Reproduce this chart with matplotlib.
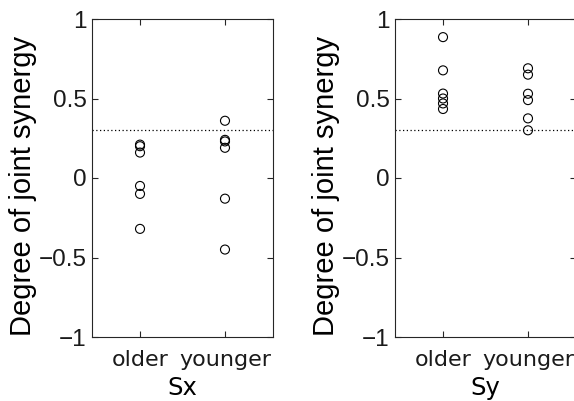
import matplotlib
matplotlib.use("Agg")
import matplotlib.pyplot as plt

# datos
groups = ["older", "younger"]
sx_older = [0.21, 0.20, 0.16, -0.05, -0.10, -0.32]
sx_younger = [0.36, 0.24, 0.23, 0.19, -0.13, -0.45]
sy_older = [0.886, 0.677, 0.531, 0.50, 0.469, 0.434]
sy_younger = [0.69, 0.65, 0.53, 0.49, 0.375, 0.30]
threshold = 0.3
panel_names = ["Sx", "Sy"]

plt.rcParams["font.family"] = ["Liberation Sans", "DejaVu Sans"]

fig = plt.figure(figsize=(5.74, 4.01), dpi=100)
W, H = 574, 401
ax1 = fig.add_axes([92 / W, 1 - 337 / H, 181 / W, 318 / H])
ax2 = fig.add_axes([395 / W, 1 - 337 / H, 181 / W, 318 / H])

lab_font = ["DejaVu Sans"]

for ax, (older, younger), name in zip(
        [ax1, ax2], [(sx_older, sx_younger), (sy_older, sy_younger)], panel_names):
    ax.scatter([1] * len(older), older, s=42, facecolors="none",
               edgecolors="black", linewidths=0.8, zorder=3)
    ax.scatter([2] * len(younger), younger, s=42, facecolors="none",
               edgecolors="black", linewidths=0.8, zorder=3)
    ax.axhline(threshold, color="black", linestyle=(0, (1, 2)), linewidth=0.9)
    ax.set_xlim(0.435, 2.565)
    ax.set_ylim(-1, 1)
    ax.set_yticks([-1, -0.5, 0, 0.5, 1])
    ax.set_yticklabels(["\u22121", "\u22120.5", "0", "0.5", "1"], fontsize=17.5)
    ax.set_xticks([1, 2])
    ax.set_xticklabels(groups, fontsize=16, family=lab_font)
    ax.set_xlabel(name, fontsize=17.5, family=lab_font, labelpad=5)
    ax.set_ylabel("Degree of joint synergy", fontsize=21)
    ax.yaxis.set_label_coords(-0.304, 0.475)
    ax.tick_params(direction="in", top=True, right=True, length=4,
                   width=0.8, color="#262626", labelcolor="#1a1a1a", pad=4)
    ax.tick_params(axis="x", pad=9)
    for sp in ax.spines.values():
        sp.set_linewidth(0.8)
        sp.set_color("#262626")

fig.savefig("out.png", dpi=100)
